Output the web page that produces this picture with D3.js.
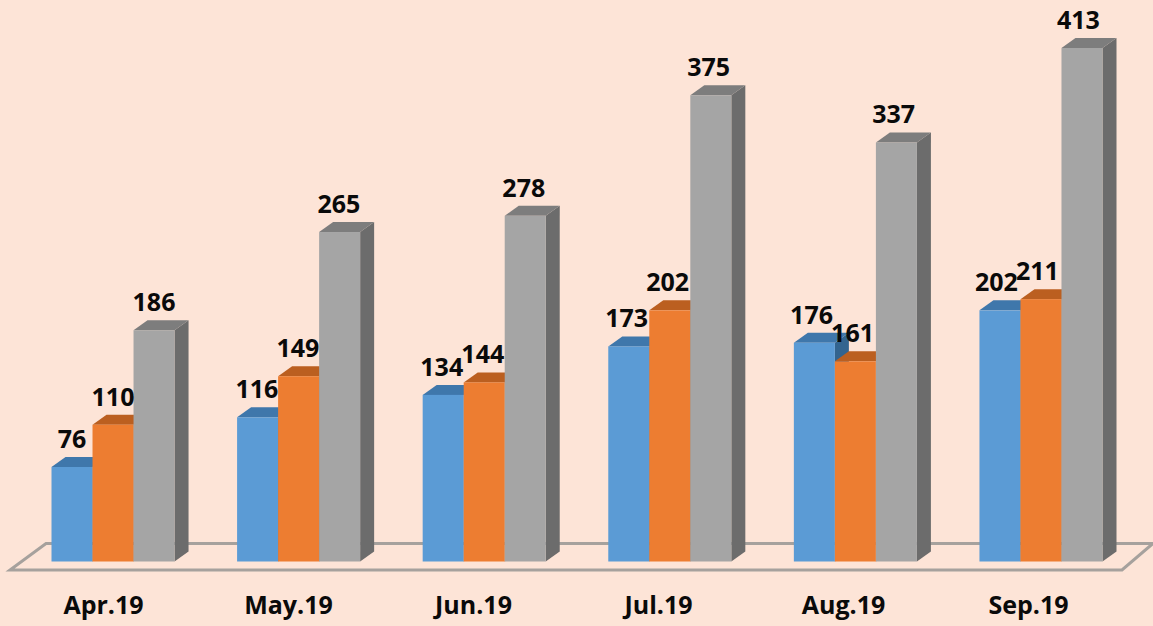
<!DOCTYPE html>
<html>
<head>
<meta charset="utf-8">
<script src="https://cdn.jsdelivr.net/npm/d3@7"></script>
<style>
  html, body { margin: 0; padding: 0; background: #fde4d7; }
  svg { display: block; }
  text { font-family: "Open Sans", sans-serif; font-weight: 700; fill: #0a0a0a; }
  .value { font-size: 25px; text-anchor: middle; }
  .month text { font-size: 25px; }
</style>
</head>
<body>
<div id="chart"></div>
<script>
const months = ["Apr.19", "May.19", "Jun.19", "Jul.19", "Aug.19", "Sep.19"];
const seriesNames = ["a", "b", "c"];
const seriesA = [76, 116, 134, 173, 176, 202];
const seriesB = [110, 149, 144, 202, 161, 211];
const seriesC = [186, 265, 278, 375, 337, 413];
const seriesValues = [seriesA, seriesB, seriesC];

const frontColor = ["#5b9bd5", "#ed7d31", "#a5a5a5"];
const topColor = ["#3f77ab", "#bb5f20", "#7d7d7d"];
const sideColor = ["#33648f", "#9c4f1a", "#6c6c6c"];

const width = 1153;
const height = 626;
const baseY = 561.5;
const depthX = 14;
const depthY = 10;

const svg = d3
  .select("#chart")
  .append("svg")
  .attr("width", width)
  .attr("height", height);

// *Scales
const x = d3.scaleBand().domain(months).range([51.5, 1102.5]).paddingInner(0.337);
const xInner = d3.scaleBand().domain(seriesNames).range([0, x.bandwidth()]);
const y = d3.scaleLinear().domain([0, 413]).range([baseY, 48]);
// value labels drift a little left of the bars towards the right side of the original
const xValue = d3.scaleBand().domain(months).range([51.5, 1098.5]).paddingInner(0.337);
// the month labels sit a bit left of their groups in the original
const xLabel = d3.scalePoint().domain(months).range([103, 1028]);

// *Floor of the 3d chart
svg
  .append("path")
  .attr("d", "M10,570 L1122,570 L1153,543.5 L46,543.5 Z")
  .attr("fill", "none")
  .attr("stroke", "#a6a19d")
  .attr("stroke-width", 3);

// *Bars
months.forEach((month, i) => {
  const g = svg.append("g").attr("class", "group");
  seriesNames.forEach((name, s) => {
    const v = seriesValues[s][i];
    const x0 = x(month) + xInner(name);
    const x1 = x0 + xInner.bandwidth();
    const top = y(v);

    g.append("path")
      .attr("fill", sideColor[s])
      .attr("d", `M${x1},${top} L${x1 + depthX},${top - depthY} L${x1 + depthX},${baseY - depthY} L${x1},${baseY} Z`);
    g.append("path")
      .attr("fill", topColor[s])
      .attr("d", `M${x0},${top} L${x0 + depthX},${top - depthY} L${x1 + depthX},${top - depthY} L${x1},${top} Z`);
    g.append("rect")
      .attr("x", x0)
      .attr("y", top)
      .attr("width", x1 - x0)
      .attr("height", baseY - top)
      .attr("fill", frontColor[s]);
  });
});

// *Value labels go on top of every bar
months.forEach((month, i) => {
  seriesNames.forEach((name, s) => {
    const v = seriesValues[s][i];
    svg
      .append("text")
      .attr("class", "value")
      .attr("x", xValue(month) + xInner(name) + xInner.bandwidth() / 2)
      .attr("y", y(v) - 19)
      .text(v);
  });
});

// *Month axis
const xAxis = svg
  .append("g")
  .attr("class", "month")
  .attr("transform", "translate(0,591.5)")
  .call(d3.axisBottom(xLabel).tickSize(0).tickPadding(0));
xAxis.select(".domain").remove();
xAxis.selectAll("text").attr("dy", "0.9em").style("font-family", '"Open Sans", sans-serif');
</script>
</body>
</html>
